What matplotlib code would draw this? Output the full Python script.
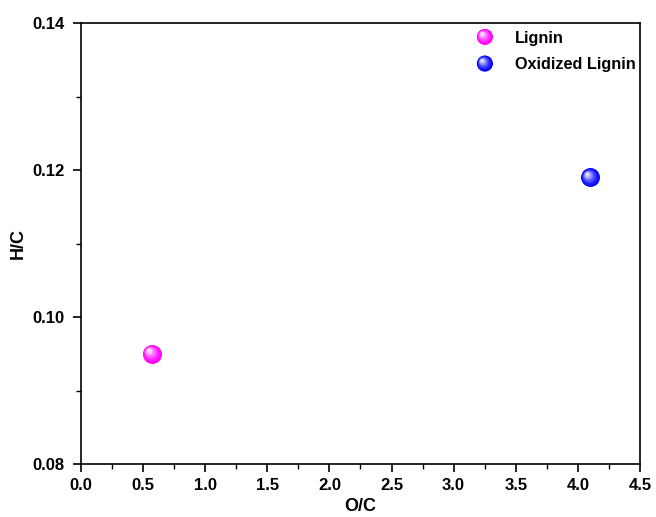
import numpy as np
import matplotlib
matplotlib.use("Agg")
import matplotlib.pyplot as plt
import matplotlib.transforms as mtransforms
from matplotlib.legend_handler import HandlerBase
from matplotlib.patches import Circle
from matplotlib.colors import to_rgb

plt.rcParams["font.family"] = ["Liberation Sans", "DejaVu Sans"]
plt.rcParams["font.weight"] = "bold"

labels = ["Lignin", "Oxidized Lignin"]
colors = ["#ff00ff", "#0000ff"]
oc = [0.57, 4.10]
hc = [0.0950, 0.1190]

RADIUS = 6.8   # points, plotted balls
LEG_RADIUS = 5.8   # points, legend balls
LAYERS = 14


def shade(base, t):
    b = np.array(to_rgb(base))
    return tuple(b + (1 - b) * t)


def draw_sphere(ax, x, y, color):
    # base ball, then smaller and lighter discs drifting to the upper left
    for i in range(LAYERS):
        f = i / (LAYERS - 1)
        r = RADIUS * (1 - 0.8 * f)
        dx = -RADIUS * 0.35 * f
        dy = RADIUS * 0.35 * f
        off = mtransforms.offset_copy(ax.transData, fig=ax.figure, x=dx, y=dy, units="points")
        ax.scatter([x], [y], s=(2 * r) ** 2, color=shade(color, 0.85 * f ** 1.5),
                   linewidths=0, transform=off, zorder=3 + i * 0.01, clip_on=False)


class SphereHandler(HandlerBase):
    def __init__(self, color):
        super().__init__()
        self.color = color

    def create_artists(self, legend, orig_handle, xdescent, ydescent, width, height, fontsize, trans):
        cx = width / 2 - xdescent
        cy = height / 2 - ydescent
        arts = []
        for i in range(LAYERS):
            f = i / (LAYERS - 1)
            r = LEG_RADIUS * (1 - 0.8 * f)
            c = Circle((cx - LEG_RADIUS * 0.35 * f, cy + LEG_RADIUS * 0.35 * f), r,
                       facecolor=shade(self.color, 0.85 * f ** 1.5), edgecolor="none",
                       transform=trans)
            arts.append(c)
        return arts


fig = plt.figure(figsize=(6.56, 5.17), dpi=100)
ax = fig.add_axes([0.1235, 0.1025, 0.852, 0.853])

handles = []
for x, y, c, lab in zip(oc, hc, colors, labels):
    draw_sphere(ax, x, y, c)
    h = ax.scatter([], [], color=c, label=lab)
    handles.append(h)

ax.set_xlim(0, 4.5)
ax.set_ylim(0.08, 0.14)
ax.set_xticks(np.arange(0, 4.51, 0.5))
ax.set_xticks(np.arange(0, 4.51, 0.25), minor=True)
ax.set_yticks([0.08, 0.10, 0.12, 0.14])
ax.set_yticks(np.arange(0.08, 0.1401, 0.01), minor=True)
ax.xaxis.set_major_formatter(plt.FormatStrFormatter("%.1f"))
ax.yaxis.set_major_formatter(plt.FormatStrFormatter("%.2f"))
ax.tick_params(which="major", direction="out", length=6, width=1.2, labelsize=12, pad=4)
ax.tick_params(axis="y", which="major", pad=6)
ax.tick_params(which="minor", direction="out", length=3.5, width=1.0)
for sp in ax.spines.values():
    sp.set_linewidth(1.2)

ax.set_xlabel("O/C", fontsize=13, fontweight="bold", labelpad=4)
ax.set_ylabel("H/C", fontsize=13, fontweight="bold", labelpad=4)

ax.legend(handles=handles, labels=labels, loc="upper left", frameon=False, fontsize=11.7,
          handler_map={handles[0]: SphereHandler(colors[0]), handles[1]: SphereHandler(colors[1])},
          handlelength=1.2, handletextpad=1.25, labelspacing=0.72, borderpad=0.4,
          bbox_to_anchor=(0.679, 1.016))

fig.savefig("out.png", dpi=100)
